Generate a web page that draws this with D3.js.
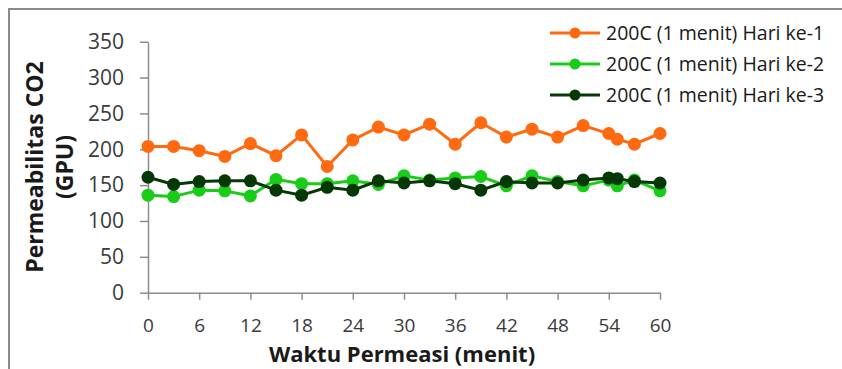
<!DOCTYPE html>
<html>
<head>
<meta charset="utf-8">
<script src="https://cdn.jsdelivr.net/npm/d3@7"></script>
<style>
  html, body { margin: 0; padding: 0; background: #fff; }
  svg { display: block; }
  text { font-family: "Open Sans", "Noto Sans", sans-serif; }
</style>
</head>
<body>
<svg id="chart" width="842" height="369"></svg>
<script>
// Permeation time (minutes) shared by all three runs
const waktu = [0, 3, 6, 9, 12, 15, 18, 21, 24, 27, 30, 33, 36, 39, 42, 45, 48, 51, 54, 55, 57, 60];

// CO2 permeability (GPU) for each day
const hari1 = [204, 204, 198, 190, 208, 191, 220, 176, 213, 231, 220, 235, 207, 237, 217, 228, 217, 233, 222, 214, 207, 222];
const hari2 = [136, 134, 143, 142, 135, 158, 152, 152, 156, 151, 163, 157, 160, 162, 149, 163, 155, 149, 157, 149, 157, 142];
const hari3 = [161, 151, 155, 156, 156, 143, 136, 147, 143, 156, 153, 156, 152, 143, 155, 153, 153, 157, 160, 159, 155, 153];

const seriesNames = ["200C (1 menit) Hari ke-1", "200C (1 menit) Hari ke-2", "200C (1 menit) Hari ke-3"];
const seriesColors = ["#ff6a10", "#18cc18", "#053805"];

const xTicks = [0, 6, 12, 18, 24, 30, 36, 42, 48, 54, 60];
const yTicks = [0, 50, 100, 150, 200, 250, 300, 350];

const svg = d3.select("#chart");

// outer frame
svg.append("path")
  .attr("d", "M9,369 V9 H842")
  .attr("fill", "none")
  .attr("stroke", "#8a8a8a")
  .attr("stroke-width", 2);

const x = d3.scaleLinear().domain([0, 60]).range([148, 660]);
const y = d3.scaleLinear().domain([0, 350]).range([292.7, 41.7]);

const axisColor = "#8c8c8c";

// y axis
const gy = svg.append("g")
  .attr("transform", `translate(${x(0)},0)`)
  .call(d3.axisLeft(y).tickValues(yTicks).tickSize(8).tickSizeOuter(0).tickPadding(16));
// x axis
const gx = svg.append("g")
  .attr("transform", `translate(0,${y(0)})`)
  .call(d3.axisBottom(x).tickValues(xTicks).tickSize(7).tickSizeOuter(0).tickPadding(19));

[gx, gy].forEach(g => {
  g.select(".domain").attr("stroke", axisColor).attr("stroke-width", 1.5);
  g.selectAll(".tick line").attr("stroke", axisColor).attr("stroke-width", 1.5);
  g.selectAll(".tick text")
    .attr("fill", "#3a3a3a")
    .style("font-family", "'Open Sans', sans-serif");
});
gy.selectAll(".tick text").style("font-size", "21px");
gx.selectAll(".tick text").style("font-size", "19px");

// axis titles
svg.append("text")
  .attr("x", 402).attr("y", 362.2)
  .attr("text-anchor", "middle")
  .attr("font-weight", "bold")
  .attr("fill", "#1a1a1a")
  .style("font-size", "22px")
  .text("Waktu Permeasi (menit)");

const yt = svg.append("text")
  .attr("transform", "translate(43,167) rotate(-90)")
  .attr("text-anchor", "middle")
  .attr("font-weight", "bold")
  .attr("fill", "#1a1a1a")
  .style("font-size", "23px");
yt.append("tspan").attr("x", 0).attr("dy", 0).text("Permeabilitas CO2");
yt.append("tspan").attr("x", 0).attr("dy", 30).text("(GPU)");

// series lines and markers
const allSeries = [hari1, hari2, hari3];
const line = d3.line().x((d, i) => x(waktu[i])).y(d => y(d));

allSeries.forEach((vals, s) => {
  const g = svg.append("g");
  g.append("path")
    .datum(vals)
    .attr("d", line)
    .attr("fill", "none")
    .attr("stroke", seriesColors[s])
    .attr("stroke-width", 3);
  g.selectAll("circle")
    .data(vals)
    .join("circle")
    .attr("cx", (d, i) => x(waktu[i]))
    .attr("cy", d => y(d))
    .attr("r", 6.5)
    .attr("fill", seriesColors[s]);
});

// legend
const legend = svg.append("g");
const legendY = [33, 64, 95];
seriesNames.forEach((name, s) => {
  const g = legend.append("g").attr("transform", `translate(0,${legendY[s]})`);
  g.append("line").attr("x1", 550).attr("x2", 600).attr("y1", 0).attr("y2", 0)
    .attr("stroke", seriesColors[s]).attr("stroke-width", 3);
  g.append("circle").attr("cx", 575).attr("cy", 0).attr("r", 5.5).attr("fill", seriesColors[s]);
  g.append("text").attr("x", 606).attr("y", 6.5)
    .attr("fill", "#1a1a1a")
    .style("font-size", "19.5px")
    .text(name);
});
</script>
</body>
</html>
